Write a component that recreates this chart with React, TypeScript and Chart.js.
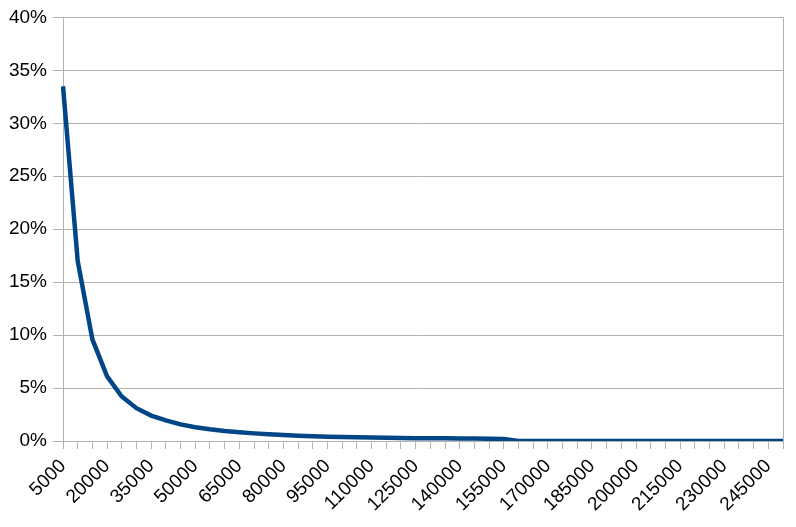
import React, { useEffect, useRef } from 'react';
import Chart from 'chart.js/auto';

// income brackets (5000 .. 250000, step 5000)
const brackets: number[] = [
  5000, 10000, 15000, 20000, 25000, 30000, 35000, 40000, 45000, 50000,
  55000, 60000, 65000, 70000, 75000, 80000, 85000, 90000, 95000, 100000,
  105000, 110000, 115000, 120000, 125000, 130000, 135000, 140000, 145000, 150000,
  155000, 160000, 165000, 170000, 175000, 180000, 185000, 190000, 195000, 200000,
  205000, 210000, 215000, 220000, 225000, 230000, 235000, 240000, 245000, 250000,
];

// share per bracket (fraction)
const shares: number[] = [
  0.335, 0.17, 0.096, 0.061, 0.042, 0.031, 0.024, 0.0195, 0.0157, 0.013,
  0.011, 0.0094, 0.0082, 0.0072, 0.0063, 0.0056, 0.005, 0.0045, 0.0041, 0.0038,
  0.0035, 0.0033, 0.0031, 0.0029, 0.0027, 0.0026, 0.0025, 0.0024, 0.0023, 0.0022,
  0.002, 0, 0, 0, 0, 0, 0, 0, 0, 0,
  0, 0, 0, 0, 0, 0, 0, 0, 0, 0,
];

const yMax = 0.4;
const yStep = 0.05;
const labelEvery = 3;

const gridColor = '#b3b3b3';
const lineColor = '#004586';
const font = { family: '"Liberation Sans", Arial, sans-serif', size: 19 };

const App: React.FC = () => {
  const chartRef = useRef<HTMLCanvasElement>(null);
  const chartInstance = useRef<Chart | null>(null);

  useEffect(() => {
    if (!chartRef.current) return;
    const ctx = chartRef.current.getContext('2d');
    if (!ctx) return;

    if (chartInstance.current) {
      chartInstance.current.destroy();
    }

    chartInstance.current = new Chart(ctx, {
      type: 'line',
      data: {
        labels: brackets.map(String),
        datasets: [
          {
            data: shares,
            borderColor: lineColor,
            borderWidth: 4.5,
            pointRadius: 0,
            tension: 0,
            fill: false,
          },
        ],
      },
      options: {
        animation: false,
        responsive: true,
        maintainAspectRatio: false,
        layout: { padding: { left: 8, right: 13, top: 14, bottom: 0 } },
        plugins: {
          legend: { display: false },
          tooltip: { enabled: false },
        },
        scales: {
          x: {
            offset: false,
            border: { color: gridColor, width: 1 },
            grid: {
              color: (c: any) =>
                c.index === brackets.length - 1 ? gridColor : 'rgba(0,0,0,0)',
              tickColor: gridColor,
              tickLength: 8,
              drawOnChartArea: true,
            },
            ticks: {
              autoSkip: false,
              maxRotation: 45,
              minRotation: 45,
              color: '#000',
              font,
              padding: 6,
              callback: (_v: any, i: number) =>
                i % labelEvery === 0 ? String(brackets[i]) : '',
            },
            afterFit: (scale: any) => {
              scale.height = 86;
              scale.paddingRight = 0;
              scale.paddingLeft = 0;
            },
          },
          y: {
            min: 0,
            max: yMax,
            border: { color: gridColor, width: 1 },
            grid: { color: gridColor, tickLength: 10 },
            ticks: {
              stepSize: yStep,
              color: '#000',
              font,
              padding: 6,
              callback: (v: any) => Math.round(Number(v) * 100) + '%',
            },
            afterFit: (scale: any) => {
              scale.width = 55;
            },
          },
        },
      },
    });

    return () => {
      if (chartInstance.current) {
        chartInstance.current.destroy();
        chartInstance.current = null;
      }
    };
  }, []);

  return (
    <div
      style={{
        position: 'absolute',
        left: 0,
        top: 0,
        width: 796,
        height: 527,
        background: '#fff',
      }}
    >
      <canvas ref={chartRef} />
    </div>
  );
};

export default App;
